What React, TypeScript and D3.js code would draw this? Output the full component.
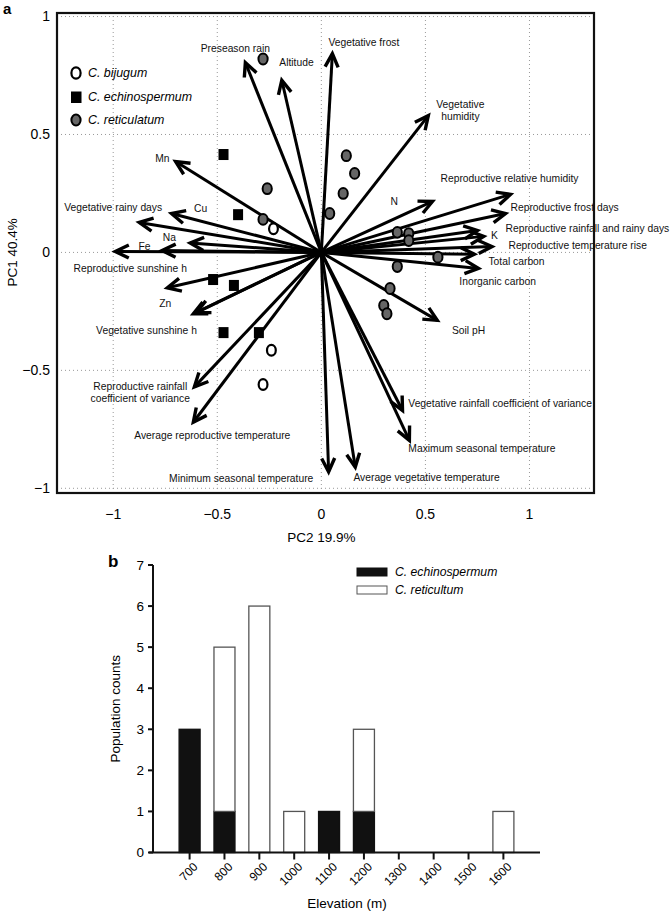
import React from "react";
import * as d3 from "d3";

// ---------- Panel a data ----------
const arrowNames = [
  "Preseason rain", "Altitude", "Vegetative frost", "Vegetative humidity", "Mn",
  "Vegetative rainy days", "Cu", "Na", "(unlabelled)", "Fe", "Reproductive sunshine h",
  "Zn", "Vegetative sunshine h", "Reproductive rainfall coefficient of variance",
  "Average reproductive temperature", "Minimum seasonal temperature",
  "Average vegetative temperature", "Maximum seasonal temperature",
  "Vegetative rainfall coefficient of variance", "Soil pH", "Inorganic carbon",
  "Total carbon", "Reproductive temperature rise", "K",
  "Reproductive rainfall and rainy days", "Reproductive frost days",
  "Reproductive relative humidity", "N",
];
const arrowPC2 = [
  -0.365, -0.19, 0.053, 0.514, -0.70, -0.875, -0.72, -0.63, -0.765, -0.99, -0.74,
  -0.615, -0.60, -0.61, -0.615, 0.035, 0.163, 0.423, 0.39, 0.557, 0.755, 0.735,
  0.82, 0.78, 0.75, 0.885, 0.909, 0.534,
];
const arrowPC1 = [
  0.805, 0.73, 0.843, 0.58, 0.385, 0.127, 0.165, 0.04, 0.008, 0.004, -0.15,
  -0.26, -0.255, -0.57, -0.72, -0.93, -0.91, -0.797, -0.67, -0.288, -0.068, -0.008,
  0.025, 0.068, 0.093, 0.165, 0.246, 0.216,
];

const bijugumPC2 = [-0.23, -0.24, -0.28];
const bijugumPC1 = [0.10, -0.415, -0.56];
const echinoPC2 = [-0.47, -0.40, -0.52, -0.42, -0.47, -0.30];
const echinoPC1 = [0.415, 0.16, -0.115, -0.14, -0.34, -0.34];
const reticPC2 = [-0.28, -0.26, -0.28, 0.04, 0.12, 0.16, 0.105, 0.365, 0.42, 0.42, 0.56, 0.365, 0.33, 0.30, 0.315];
const reticPC1 = [0.82, 0.27, 0.14, 0.165, 0.41, 0.335, 0.25, 0.085, 0.08, 0.05, -0.02, -0.06, -0.153, -0.225, -0.26];

const ticksA = [-1, -0.5, 0, 0.5, 1];

// label placement (layout, in data units)
type Lbl = { t: string[]; x: number; y: number; a: "start" | "middle" | "end" };
const arrowLabels: Lbl[] = [
  { t: ["Preseason rain"], x: -0.413, y: 0.864, a: "middle" },
  { t: ["Altitude"], x: -0.202, y: 0.805, a: "start" },
  { t: ["Vegetative frost"], x: 0.034, y: 0.89, a: "start" },
  { t: ["Vegetative", "humidity"], x: 0.668, y: 0.627, a: "middle" },
  { t: ["Mn"], x: -0.764, y: 0.40, a: "middle" },
  { t: ["Vegetative rainy days"], x: -1.0, y: 0.19, a: "middle" },
  { t: ["Cu"], x: -0.58, y: 0.186, a: "middle" },
  { t: ["Na"], x: -0.73, y: 0.064, a: "middle" },
  { t: ["Fe"], x: -0.85, y: 0.025, a: "middle" },
  { t: ["Reproductive sunshine h"], x: -0.918, y: -0.068, a: "middle" },
  { t: ["Zn"], x: -0.75, y: -0.216, a: "middle" },
  { t: ["Vegetative sunshine h"], x: -0.84, y: -0.33, a: "middle" },
  { t: ["Reproductive rainfall", "coefficient of variance"], x: -0.87, y: -0.568, a: "middle" },
  { t: ["Average reproductive temperature"], x: -0.524, y: -0.775, a: "middle" },
  { t: ["Minimum seasonal temperature"], x: -0.385, y: -0.958, a: "middle" },
  { t: ["Average vegetative temperature"], x: 0.154, y: -0.953, a: "start" },
  { t: ["Maximum seasonal temperature"], x: 0.418, y: -0.83, a: "start" },
  { t: ["Vegetative rainfall coefficient of variance"], x: 0.418, y: -0.64, a: "start" },
  { t: ["Soil pH"], x: 0.707, y: -0.33, a: "middle" },
  { t: ["Inorganic carbon"], x: 0.663, y: -0.123, a: "start" },
  { t: ["Total carbon"], x: 0.803, y: -0.038, a: "start" },
  { t: ["Reproductive temperature rise"], x: 0.899, y: 0.03, a: "start" },
  { t: ["K"], x: 0.832, y: 0.072, a: "middle" },
  { t: ["Reproductive rainfall and rainy days"], x: 0.885, y: 0.102, a: "start" },
  { t: ["Reproductive frost days"], x: 0.909, y: 0.19, a: "start" },
  { t: ["Reproductive relative humidity"], x: 0.904, y: 0.314, a: "middle" },
  { t: ["N"], x: 0.35, y: 0.216, a: "middle" },
];

// ---------- Panel b data ----------
const elevations = ["700", "800", "900", "1000", "1100", "1200", "1300", "1400", "1500", "1600"];
const echinoCounts = [3, 1, 0, 0, 1, 1, 0, 0, 0, 0];
const reticCounts = [0, 4, 6, 1, 0, 2, 0, 0, 0, 1];
const yTicksB = [0, 1, 2, 3, 4, 5, 6, 7];

const FONT = "'Liberation Sans', Arial, Helvetica, sans-serif";

function Arrow({ x1, y1, x2, y2 }: { x1: number; y1: number; x2: number; y2: number }) {
  const ang = Math.atan2(y2 - y1, x2 - x1);
  const L = 15;
  const spread = 0.45;
  const bx1 = x2 - L * Math.cos(ang - spread);
  const by1 = y2 - L * Math.sin(ang - spread);
  const bx2 = x2 - L * Math.cos(ang + spread);
  const by2 = y2 - L * Math.sin(ang + spread);
  return (
    <g>
      <line x1={x1} y1={y1} x2={x2} y2={y2} stroke="#000" strokeWidth={3} />
      <polyline
        points={`${bx1},${by1} ${x2},${y2} ${bx2},${by2}`}
        fill="none"
        stroke="#000"
        strokeWidth={3.4}
        strokeLinejoin="miter"
        strokeMiterlimit={10}
      />
    </g>
  );
}

export default function App() {
  // Panel a scales
  const xA = d3.scaleLinear().domain([-1.27, 1.31]).range([57, 594]);
  const yA = d3.scaleLinear().domain([-1.02, 1.015]).range([493, 13]);

  // Panel b scales
  const xB = d3.scalePoint<string>().domain(elevations).range([153, 540]).padding(1.05);
  const yB = d3.scaleLinear().domain([0, 7]).range([852.5, 565]);
  const barW = 21;

  const stack = d3.stack<number>().keys(["e", "r"]).value((i, k) => (k === "e" ? echinoCounts[i] : reticCounts[i]));
  const series = stack(elevations.map((_, i) => i));

  return (
    <svg
      width={670}
      height={917}
      style={{ position: "absolute", left: 0, top: 0, fontFamily: FONT }}
    >
      <rect x={0} y={0} width={670} height={917} fill="#fff" />
      {/* ===== Panel a ===== */}
      <text x={3} y={14} fontSize={15} fontWeight="bold">a</text>
      {/* grid */}
      {ticksA.map((t) => (
        <line key={"gx" + t} x1={xA(t)} x2={xA(t)} y1={yA.range()[0]} y2={yA.range()[1]}
          stroke="#999" strokeWidth={1} strokeDasharray="1,3" />
      ))}
      {ticksA.map((t) => (
        <line key={"gy" + t} x1={xA.range()[0]} x2={xA.range()[1]} y1={yA(t)} y2={yA(t)}
          stroke="#999" strokeWidth={1} strokeDasharray="1,3" />
      ))}
      {/* arrows */}
      {arrowPC2.map((v, i) => (
        <Arrow key={"ar" + i} x1={xA(0)} y1={yA(0)} x2={xA(v)} y2={yA(arrowPC1[i])} />
      ))}
      {/* arrow labels */}
      {arrowLabels.map((l, i) => (
        <text key={"al" + i} x={xA(l.x)} y={yA(l.y)} textAnchor={l.a} fontSize={10.3} fill="#111">
          {l.t.map((s, j) => (
            <tspan key={j} x={xA(l.x)} dy={j === 0 ? "0.35em" : "1.2em"}>{s}</tspan>
          ))}
        </text>
      ))}
      {/* points */}
      {reticPC2.map((v, i) => (
        <ellipse key={"rp" + i} cx={xA(v)} cy={yA(reticPC1[i])} rx={4.6} ry={5.4}
          fill="#666" stroke="#000" strokeWidth={2} />
      ))}
      {bijugumPC2.map((v, i) => (
        <ellipse key={"bp" + i} cx={xA(v)} cy={yA(bijugumPC1[i])} rx={4.4} ry={5.4}
          fill="#fff" stroke="#000" strokeWidth={2.2} />
      ))}
      {echinoPC2.map((v, i) => (
        <rect key={"ep" + i} x={xA(v) - 5} y={yA(echinoPC1[i]) - 5.5} width={10} height={11}
          fill="#000" />
      ))}
      {/* legend a */}
      <ellipse cx={76} cy={73} rx={4.6} ry={5.6} fill="#fff" stroke="#000" strokeWidth={2.2} />
      <text x={88} y={73} dy="0.35em" fontSize={12.4} fontStyle="italic">C. bijugum</text>
      <rect x={71} y={91.5} width={10.5} height={11.5} fill="#000" />
      <text x={88} y={97} dy="0.35em" fontSize={12.4} fontStyle="italic">C. echinospermum</text>
      <ellipse cx={76} cy={120} rx={4.6} ry={5.6} fill="#666" stroke="#000" strokeWidth={2} />
      <text x={88} y={120} dy="0.35em" fontSize={12.4} fontStyle="italic">C. reticulatum</text>
      {/* frame */}
      <rect x={xA.range()[0]} y={yA.range()[1]} width={xA.range()[1] - xA.range()[0]}
        height={yA.range()[0] - yA.range()[1]} fill="none" stroke="#111" strokeWidth={2.2} />
      {/* tick labels */}
      {ticksA.map((t) => (
        <text key={"tx" + t} x={xA(t)} y={514} dy="0.35em" textAnchor="middle" fontSize={14}>
          {t < 0 ? "\u2212" + Math.abs(t) : String(t)}
        </text>
      ))}
      {ticksA.map((t) => (
        <text key={"ty" + t} x={50} y={yA(t)} dy="0.35em" textAnchor="end" fontSize={14}>
          {t < 0 ? "\u2212" + Math.abs(t) : String(t)}
        </text>
      ))}
      <text x={xA(0)} y={537} dy="0.35em" textAnchor="middle" fontSize={13.5}>PC2 19.9%</text>
      <text transform={`translate(12, ${yA(0)}) rotate(-90)`} dy="0.35em" textAnchor="middle" fontSize={13.5}>
        PC1 40.4%
      </text>

      {/* ===== Panel b ===== */}
      <text x={108} y={567} fontSize={17} fontWeight="bold">b</text>
      {/* bars */}
      {series.map((s) =>
        s.map((d, i) => {
          const h = yB(d[0]) - yB(d[1]);
          if (h <= 0) return null;
          return (
            <rect key={s.key + i} x={(xB(elevations[i]) as number) - barW / 2} y={yB(d[1])}
              width={barW} height={h}
              fill={s.key === "e" ? "#111" : "#fff"}
              stroke={s.key === "e" ? "#111" : "#555"} strokeWidth={1.3} />
          );
        })
      )}
      {/* y axis */}
      <line x1={153} x2={153} y1={yB(7)} y2={yB(0)} stroke="#111" strokeWidth={2} />
      {yTicksB.map((t) => (
        <g key={"yb" + t}>
          <line x1={148} x2={153} y1={yB(t)} y2={yB(t)} stroke="#111" strokeWidth={2} />
          <text x={144} y={yB(t)} dy="0.35em" textAnchor="end" fontSize={13.5}>{t}</text>
        </g>
      ))}
      {/* x axis */}
      <line x1={149} x2={540} y1={yB(0)} y2={yB(0)} stroke="#111" strokeWidth={2} />
      {elevations.map((e) => (
        <g key={"xb" + e}>
          <line x1={xB(e)} x2={xB(e)} y1={yB(0)} y2={yB(0) + 7} stroke="#111" strokeWidth={2} />
          <text transform={`translate(${(xB(e) as number) + 6}, ${yB(0) + 12}) rotate(-45)`}
            textAnchor="end" dy="0.35em" fontSize={12}>{e}</text>
        </g>
      ))}
      <text x={347} y={908} textAnchor="middle" fontSize={13.5}>Elevation (m)</text>
      <text transform={`translate(115, ${yB(3.5)}) rotate(-90)`} dy="0.35em" textAnchor="middle" fontSize={13.5}>
        Population counts
      </text>
      {/* legend b */}
      <rect x={357} y={568} width={30} height={8} fill="#111" stroke="#111" strokeWidth={1} />
      <text x={395} y={572} dy="0.35em" fontSize={12.2} fontStyle="italic">C. echinospermum</text>
      <rect x={357} y={586} width={30} height={8} fill="#fff" stroke="#555" strokeWidth={1} />
      <text x={395} y={590} dy="0.35em" fontSize={12.2} fontStyle="italic">C. reticultum</text>
    </svg>
  );
}
